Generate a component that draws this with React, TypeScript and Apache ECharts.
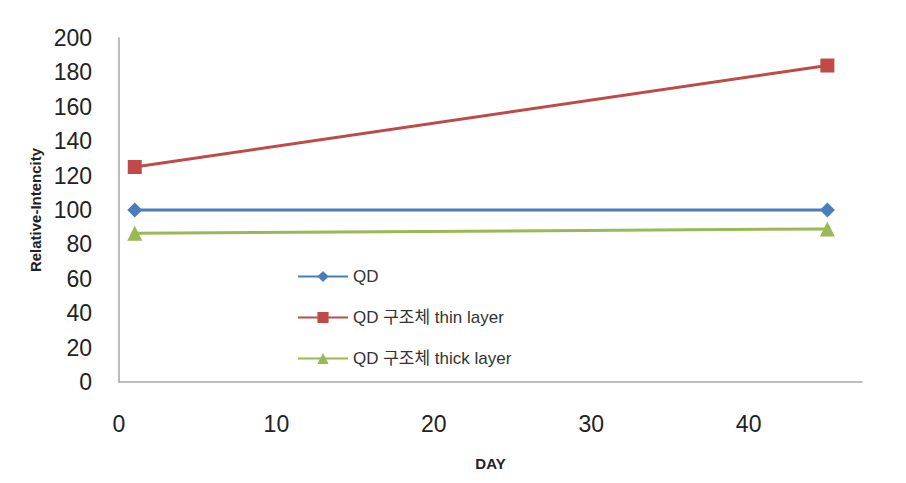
import React, { useEffect, useRef } from "react";
import * as echarts from "echarts";

const days = [1, 45];
const qd = [100, 100];
const thin = [125, 184];
const thick = [86.5, 89];
const seriesNames = ["QD", "QD 구조체 thin layer", "QD 구조체 thick layer"];
const colors = ["#4A7EBB", "#BE4B48", "#98B954"];

const FONT = "'Liberation Sans', 'Noto Sans CJK KR', sans-serif";

export default function App() {
  const ref = useRef<HTMLDivElement>(null);
  useEffect(() => {
    if (!ref.current) return;
    const chart = echarts.init(ref.current, undefined, { renderer: "svg" });
    const mk = (vals: number[]) => days.map((d, i) => [d, vals[i]]);
    chart.setOption({
      animation: false,
      backgroundColor: "#ffffff",
      grid: { left: 119, top: 38, right: 44, bottom: 101 },
      legend: {
        orient: "vertical",
        left: 292,
        top: 263,
        itemWidth: 50,
        itemHeight: 14,
        itemGap: 24,
        textStyle: { fontFamily: FONT, fontSize: 17, color: "#333" },
        data: seriesNames.map((n, i) => ({ name: n, itemStyle: { color: colors[i] } })),
      },
      xAxis: {
        type: "value",
        min: 0,
        max: 47.2,
        interval: 10,
        name: "DAY",
        nameLocation: "middle",
        nameGap: 74,
        nameTextStyle: { fontFamily: FONT, fontSize: 15, fontWeight: "bold", color: "#222" },
        axisLine: { show: true, onZero: false, lineStyle: { color: "#A6A6A6", width: 1.5 } },
        axisTick: { show: false },
        splitLine: { show: false },
        axisLabel: {
          margin: 30,
          fontFamily: FONT,
          fontSize: 23,
          color: "#222",
          showMaxLabel: false,
          formatter: (v: number) => (v % 10 === 0 ? String(v) : ""),
        },
      },
      yAxis: {
        type: "value",
        min: 0,
        max: 200,
        interval: 20,
        name: "Relative-Intencity",
        nameLocation: "middle",
        nameGap: 76,
        nameTextStyle: { fontFamily: FONT, fontSize: 15, fontWeight: "bold", color: "#222" },
        axisLine: { show: true, lineStyle: { color: "#A6A6A6", width: 1.5 } },
        axisTick: { show: false },
        splitLine: { show: false },
        axisLabel: { margin: 27, fontFamily: FONT, fontSize: 23, color: "#222" },
      },
      series: [
        {
          name: seriesNames[0],
          type: "line",
          data: mk(qd),
          symbol: "diamond",
          symbolSize: 15,
          lineStyle: { width: 3, color: colors[0] },
          itemStyle: { color: colors[0] },
        },
        {
          name: seriesNames[1],
          type: "line",
          data: mk(thin),
          symbol: "rect",
          symbolSize: 14,
          lineStyle: { width: 3, color: colors[1] },
          itemStyle: { color: colors[1] },
        },
        {
          name: seriesNames[2],
          type: "line",
          data: mk(thick),
          symbol: "triangle",
          symbolSize: 15,
          lineStyle: { width: 3, color: colors[2] },
          itemStyle: { color: colors[2] },
        },
      ],
    });
    return () => chart.dispose();
  }, []);
  return <div ref={ref} style={{ width: 906, height: 483, position: "absolute", left: 0, top: 0 }} />;
}
